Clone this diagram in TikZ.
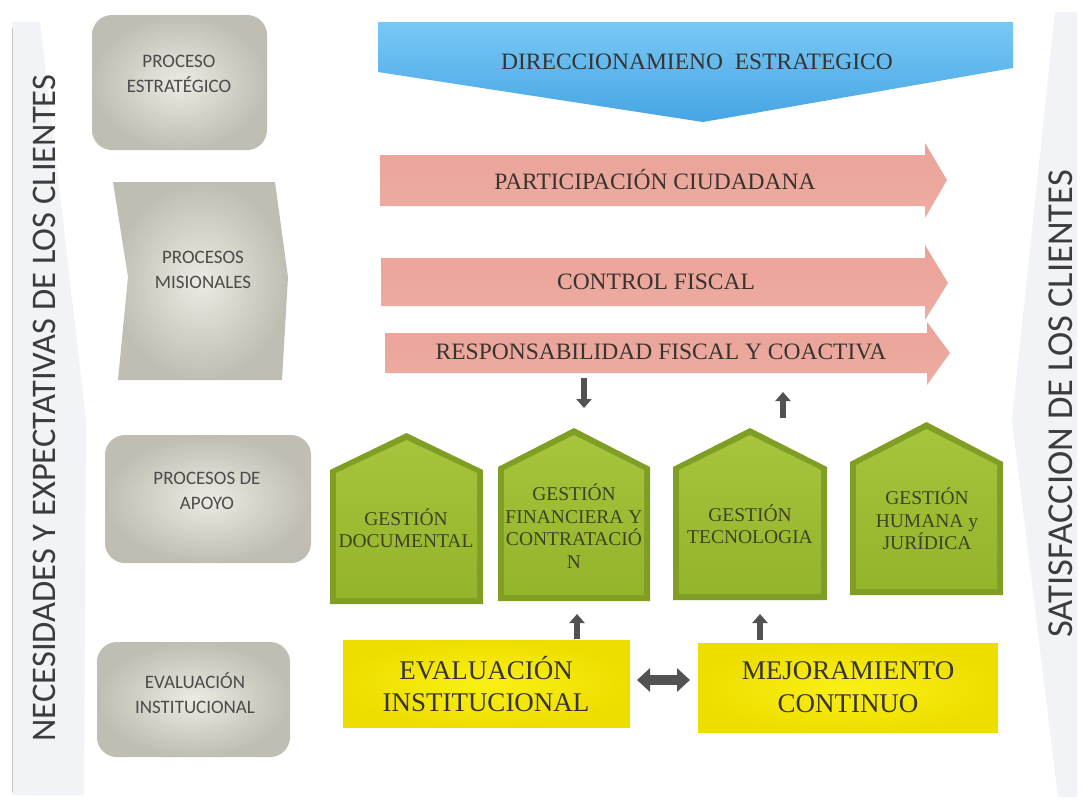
\documentclass[tikz,border=0pt]{standalone}
\usepackage{fontspec}
\setmainfont{Liberation Serif}
\newfontfamily\calib{Carlito}
\usetikzlibrary{arrows.meta,shapes.geometric}
\definecolor{bannerfill}{RGB}{242,243,247}
\definecolor{bannertxt}{RGB}{60,60,60}
\definecolor{grayin}{RGB}{236,234,227}
\definecolor{grayout}{RGB}{192,189,178}
\definecolor{graytxt}{RGB}{75,75,75}
\definecolor{blueA}{RGB}{120,200,245}
\definecolor{blueB}{RGB}{70,165,228}
\definecolor{pinkA}{RGB}{234,163,152}
\definecolor{pinkB}{RGB}{245,192,182}
\definecolor{pinkC}{RGB}{238,172,162}
\definecolor{greenOut}{RGB}{128,158,36}
\definecolor{greenA}{RGB}{166,196,60}
\definecolor{greenB}{RGB}{148,180,44}
\definecolor{greentxt}{RGB}{62,66,36}
\definecolor{yelIn}{RGB}{250,240,20}
\definecolor{yelOut}{RGB}{238,222,0}
\definecolor{serifTxt}{RGB}{55,52,48}
\definecolor{arrowgray}{RGB}{82,82,82}
\tikzset{
  graybox/.style={inner color=grayin, outer color=grayout},
  graylabel/.style={font=\calib\fontsize{19}{25}\selectfont, text=graytxt, align=center, inner sep=0pt},
  bluefill/.style={top color=blueA, bottom color=blueB},
  pinkfill/.style={top color=pinkA, middle color=pinkB, bottom color=pinkC},
  bandlabel/.style={font=\fontsize{23.5}{28}\selectfont, text=serifTxt, inner sep=0pt},
  greenlabel/.style={font=\fontsize{19.5}{22.5}\selectfont, text=greentxt, align=center, inner sep=0pt},
  yellowbox/.style={inner color=yelIn, outer color=yelOut},
  yellowlabel/.style={font=\fontsize{27}{32.5}\selectfont, text=serifTxt, align=center, inner sep=0pt},
  sidelabel/.style={font=\calib\fontsize{34.5}{35}\selectfont, text=bannertxt, rotate=90, inner sep=0pt},
  smallarrow/.style={line width=6.5pt, draw=arrowgray, -{Triangle[width=15pt,length=9pt]}},
  dblarrow/.style={line width=10pt, draw=arrowgray, {Triangle[width=23pt,length=13pt]}-{Triangle[width=23pt,length=13pt]}}
}
\newcommand\gHouse[5]{% xl xr apex-y shoulder-y bottom-y
  \pgfmathsetmacro\xm{(#1+#2)/2}
  \fill[greenOut] (#1,#5) -- (#2,#5) -- (#2,#4) -- (\xm,#3) -- (#1,#4) -- cycle;
  \shade[top color=greenA, bottom color=greenB] (#1+6,#5-6) -- (#2-6,#5-6) -- (#2-6,#4+3) -- (\xm,#3+7) -- (#1+6,#4+3) -- cycle;
}
\begin{document}
\begin{tikzpicture}[x=1pt,y=-1pt]
\useasboundingbox (0,0) rectangle (1083,803);
\fill[white] (0,0) rectangle (1083,803);

% side banners
\fill[bannerfill] (12,22) -- (40,22) -- (86,420) -- (84,795) -- (12,795) -- cycle;
\draw[gray!45, line width=1pt] (12,28) -- (12,792);
\node[sidelabel] (needs) at (44,408) {NECESIDADES Y EXPECTATIVAS DE LOS CLIENTES};
\fill[bannerfill] (1055,12) -- (1077,12) -- (1077,797) -- (1058,797) -- (1012,420) -- cycle;
\node[sidelabel, font=\calib\fontsize{36.5}{37}\selectfont] (satis) at (1061,404) {SATISFACCION DE LOS CLIENTES};

% left column
\shade[graybox, rounded corners=20pt] (92,15) rectangle (267,150);
\node[graylabel] (pest) at (179,74) {PROCESO\\ESTRATÉGICO};
\shade[graybox] (113,182) -- (275,182) -- (288,277) -- (282,380) -- (118,380) -- (128,277) -- cycle;
\node[graylabel] (pmis) at (203,270) {PROCESOS\\MISIONALES};
\shade[graybox, rounded corners=20pt] (105,435) rectangle (311,563);
\node[graylabel] (papo) at (207,491) {PROCESOS DE\\APOYO};
\shade[graybox, rounded corners=20pt] (97,642) rectangle (290,757);
\node[graylabel] (peva) at (195,693) {EVALUACIÓN\\INSTITUCIONAL};

% blue
\shade[bluefill] (378,22) -- (1013,22) -- (1013,68) -- (703,122) -- (378,72) -- cycle;
\node[bandlabel] (dir) at (697,62) {DIRECCIONAMIENO\ \ ESTRATEGICO};

% pink arrows
\shade[pinkfill] (380,155) -- (925,155) -- (925,143) -- (947,180) -- (925,218) -- (925,206) -- (380,206) -- cycle;
\node[bandlabel] (part) at (655,180) {PARTICIPACIÓN CIUDADANA};
\shade[pinkfill] (381,258) -- (925,258) -- (925,245) -- (948,283) -- (925,320) -- (925,306) -- (381,306) -- cycle;
\node[bandlabel] (ctrl) at (656,282) {CONTROL FISCAL};
\shade[pinkfill] (385,333) -- (927,333) -- (927,322) -- (950,353) -- (927,385) -- (927,373) -- (385,373) -- cycle;
\node[bandlabel] (resp) at (661,352) {RESPONSABILIDAD FISCAL Y COACTIVA};

% green houses
\gHouse{330}{483}{433}{470}{604}
\node[greenlabel] (gdoc) at (406,528) {GESTIÓN\\DOCUMENTAL};
\gHouse{498}{650}{428}{467}{601}
\node[greenlabel] (gfin) at (574,526) {GESTIÓN\\FINANCIERA Y\\CONTRATACIÓ\\N};
\gHouse{673}{827}{428}{467}{600}
\node[greenlabel] (gtec) at (750,524) {GESTIÓN\\TECNOLOGIA};
\gHouse{850}{1003}{422}{462}{595}
\node[greenlabel] (ghum) at (927,519) {GESTIÓN\\HUMANA y\\JURÍDICA};

% yellow boxes
\shade[yellowbox] (343,640) rectangle (630,727);
\node[yellowlabel] (eval) at (486,684) {EVALUACIÓN\\INSTITUCIONAL};
\shade[yellowbox] (698,643) rectangle (998,732);
\node[yellowlabel] (mejo) at (848,687) {MEJORAMIENTO\\CONTINUO};

% connectors
\coordinate (d1a) at (584,378); \coordinate (d1b) at (584,408);
\coordinate (u1a) at (783,418); \coordinate (u1b) at (783,392);
\coordinate (u2a) at (577,639); \coordinate (u2b) at (577,614);
\coordinate (u3a) at (760,640); \coordinate (u3b) at (760,614);
\coordinate (hx1) at (637,680); \coordinate (hx2) at (690,680);
\draw[smallarrow] (d1a) -- (d1b);
\draw[smallarrow] (u1a) -- (u1b);
\draw[smallarrow] (u2a) -- (u2b);
\draw[smallarrow] (u3a) -- (u3b);
\draw[dblarrow] (hx1) -- (hx2);
\end{tikzpicture}
\end{document}
